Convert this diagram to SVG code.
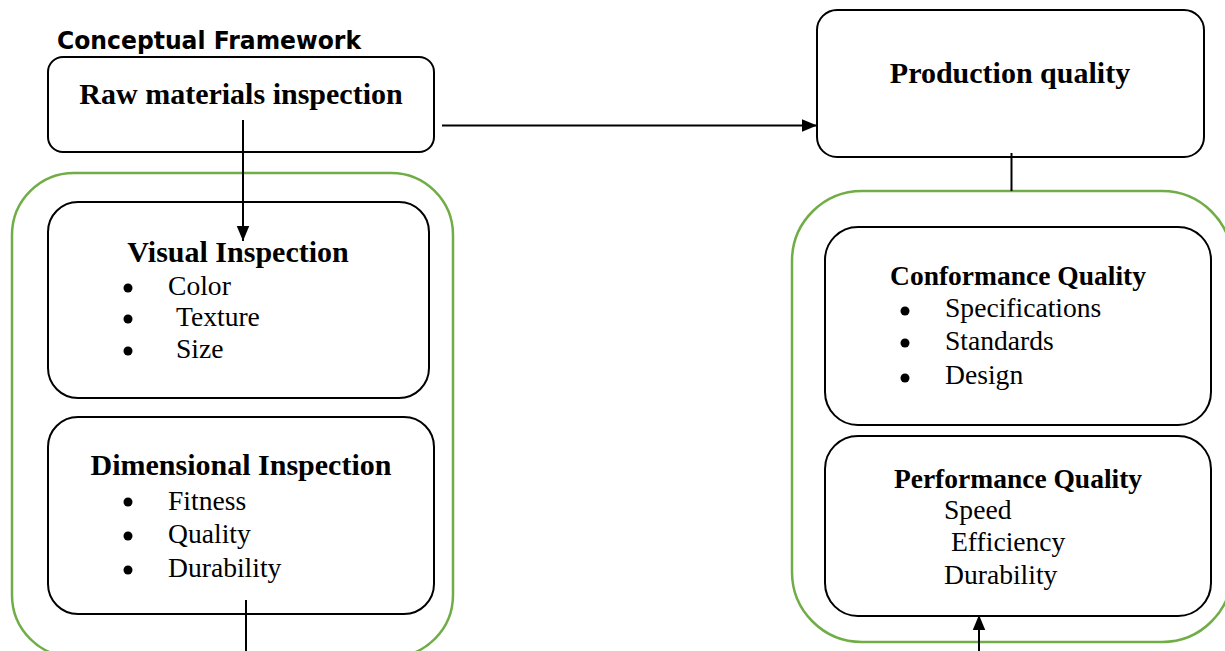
<svg xmlns="http://www.w3.org/2000/svg" width="1225" height="651" viewBox="0 0 1225 651">
  <style>
    .box { fill: #ffffff; stroke: #000000; stroke-width: 2; }
    .group { fill: none; stroke: #70AD47; stroke-width: 2.5; }
    .title { font-family: "Liberation Serif", "Times New Roman", serif; font-weight: bold; font-size: 30px; fill: #000; text-anchor: middle; }
    .title2 { font-family: "Liberation Serif", "Times New Roman", serif; font-weight: bold; font-size: 27.5px; fill: #000; text-anchor: middle; }
    .item { font-family: "Liberation Serif", "Times New Roman", serif; font-size: 27.6px; fill: #000; }
    .heading { font-family: "DejaVu Sans", Verdana, sans-serif; font-weight: bold; font-size: 24px; fill: #000; }
    .conn { stroke: #000; stroke-width: 2; fill: none; }
    .bullet { fill: #000; }
  </style>
  <defs>
    <marker id="arrow" viewBox="0 0 12 10" refX="12" refY="5" markerWidth="7.5" markerHeight="7.5" markerUnits="strokeWidth" orient="auto">
      <path d="M0,0 L12,5 L0,10 z" fill="#000"/>
    </marker>
  </defs>

  <rect width="1225" height="651" fill="#ffffff"/>

  <text class="heading" x="57" y="49" textLength="304" lengthAdjust="spacingAndGlyphs">Conceptual Framework</text>

  <!-- Group containers -->
  <g id="left-group">
    <rect class="group" x="12" y="173" width="441" height="484" rx="62" ry="62"/>
  </g>
  <g id="right-group">
    <rect class="group" x="792" y="191" width="440" height="451" rx="70" ry="70"/>
  </g>

  <!-- Nodes -->
  <g id="raw-materials">
    <rect class="box" x="48" y="57" width="386" height="95" rx="15" ry="15"/>
    <text class="title" x="241" y="104">Raw materials inspection</text>
  </g>

  <g id="visual-inspection">
    <rect class="box" x="48" y="202" width="381" height="196" rx="30" ry="30"/>
    <text class="title" x="238" y="262">Visual Inspection</text>
    <circle class="bullet" cx="128" cy="288" r="4.5"/>
    <circle class="bullet" cx="128" cy="319" r="4.5"/>
    <circle class="bullet" cx="128" cy="351" r="4.5"/>
    <text class="item" x="168" y="295">Color</text>
    <text class="item" x="176" y="326">Texture</text>
    <text class="item" x="176" y="358">Size</text>
  </g>

  <g id="dimensional-inspection">
    <rect class="box" x="48" y="417" width="386" height="197" rx="30" ry="30"/>
    <text class="title" x="241" y="475">Dimensional Inspection</text>
    <circle class="bullet" cx="128" cy="502" r="4.5"/>
    <circle class="bullet" cx="128" cy="536" r="4.5"/>
    <circle class="bullet" cx="128" cy="570" r="4.5"/>
    <text class="item" x="168" y="510">Fitness</text>
    <text class="item" x="168" y="543">Quality</text>
    <text class="item" x="168" y="577">Durability</text>
  </g>

  <g id="production-quality">
    <rect class="box" x="817" y="10" width="387" height="147" rx="20" ry="20"/>
    <text class="title" x="1010" y="83">Production quality</text>
  </g>

  <g id="conformance-quality">
    <rect class="box" x="825" y="227" width="386" height="198" rx="33" ry="33"/>
    <text class="title2" x="1018" y="285">Conformance Quality</text>
    <circle class="bullet" cx="905" cy="311" r="4.5"/>
    <circle class="bullet" cx="905" cy="343" r="4.5"/>
    <circle class="bullet" cx="905" cy="378" r="4.5"/>
    <text class="item" x="945" y="317">Specifications</text>
    <text class="item" x="945" y="350">Standards</text>
    <text class="item" x="945" y="384">Design</text>
  </g>

  <g id="performance-quality">
    <rect class="box" x="825" y="436" width="386" height="180" rx="33" ry="33"/>
    <text class="title2" x="1018" y="488">Performance Quality</text>
    <text class="item" x="944" y="519">Speed</text>
    <text class="item" x="951" y="551">Efficiency</text>
    <text class="item" x="944" y="584">Durability</text>
  </g>

  <!-- Connectors -->
  <g id="connectors">
    <line class="conn" x1="243" y1="120" x2="243" y2="241" marker-end="url(#arrow)"/>
    <line class="conn" x1="442" y1="125.5" x2="817" y2="125.5" marker-end="url(#arrow)"/>
    <line class="conn" x1="1011.5" y1="153" x2="1011.5" y2="191"/>
    <line class="conn" x1="246" y1="600" x2="246" y2="651"/>
    <line class="conn" x1="979" y1="651" x2="979" y2="615" marker-end="url(#arrow)"/>
  </g>
</svg>
